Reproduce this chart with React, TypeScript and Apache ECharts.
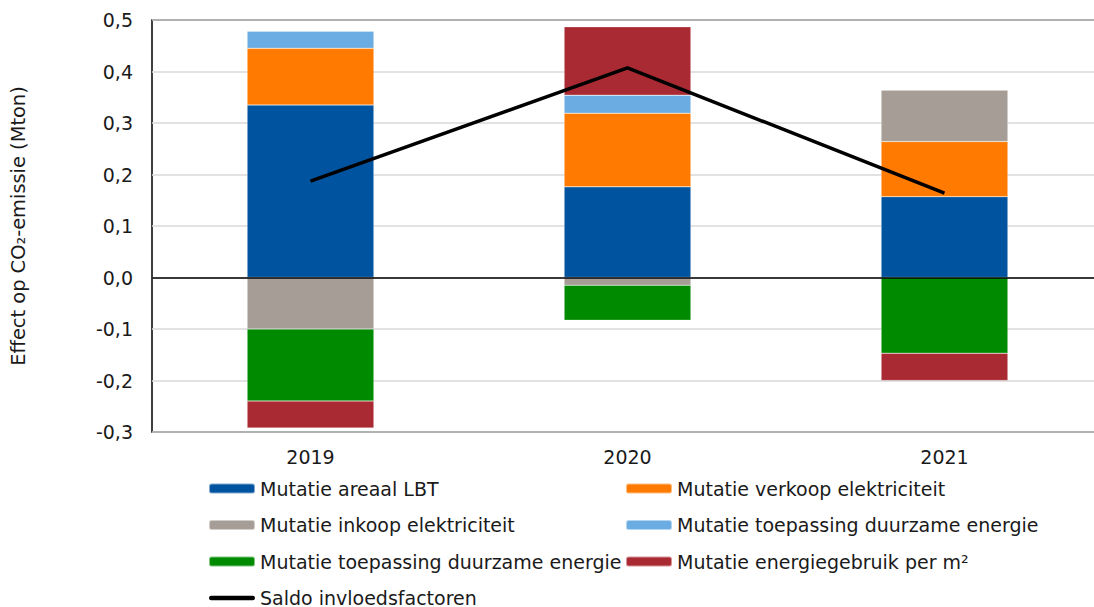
import React, { useEffect, useRef } from "react";
import * as echarts from "echarts";

const categories = ["2019", "2020", "2021"];
const areaalLBT = [0.335, 0.176, 0.157];
const verkoopElektriciteit = [0.11, 0.143, 0.107];
const inkoopElektriciteit = [-0.1, -0.015, 0.1];
const duurzaamLicht = [0.033, 0.035, 0];
const duurzaamGroen = [-0.14, -0.068, -0.147];
const energiegebruikPerM2 = [-0.052, 0.133, -0.053];
const saldo = [0.187, 0.407, 0.164];
const yTicks = { min: -0.3, max: 0.5, interval: 0.1 };

const FONT = "DejaVu Sans";
const N_BLUE = "Mutatie areaal LBT";
const N_ORANGE = "Mutatie verkoop elektriciteit";
const N_GRAY = "Mutatie inkoop elektriciteit";
const N_LBLUE = "Mutatie toepassing duurzame energie";
const N_GREEN = "Mutatie toepassing duurzame energie#2";
const N_RED = "Mutatie energiegebruik per m²";
const N_LINE = "Saldo invloedsfactoren";

export default function App() {
  const ref = useRef<HTMLDivElement>(null);
  useEffect(() => {
    if (!ref.current) return;
    const chart = echarts.init(ref.current, undefined, { renderer: "svg" });
    const bar = (name: string, data: number[], color: string) => ({
      name,
      type: "bar",
      stack: "total",
      barWidth: "40%",
      data,
      itemStyle: { color, borderColor: "rgba(255,255,255,0.5)", borderWidth: 0.5 },
    });
    const legendCommon = {
      orient: "vertical",
      top: 479,
      height: 160,
      padding: 0,
      itemWidth: 46,
      itemHeight: 10,
      itemGap: 17.5,
      itemTextGap: 6,
      formatter: (n: string) => n.replace("#2", ""),
      textStyle: { fontFamily: FONT, fontSize: 19, lineHeight: 19, color: "#1a1a1a" },
    };
    chart.setOption({
      animation: false,
      textStyle: { fontFamily: FONT },
      grid: {
        left: 152,
        top: 20,
        bottom: 175,
        width: 951,
        show: true,
        borderColor: "#000",
        borderWidth: 1.5,
        backgroundColor: "transparent",
      },
      legend: [
        {
          ...legendCommon,
          left: 208,
          data: [
            N_BLUE,
            N_GRAY,
            N_GREEN,
            {
              name: N_LINE,
              icon: "path://M2.5,0 H47.5 A2.5,2.5 0 0 1 47.5,5 H2.5 A2.5,2.5 0 0 1 2.5,0 Z",
            },
          ],
        },
        { ...legendCommon, left: 625, data: [N_ORANGE, N_LBLUE, N_RED] },
      ],
      xAxis: {
        type: "category",
        data: categories,
        axisLine: { show: false },
        axisTick: { show: false },
        axisLabel: { fontFamily: FONT, fontSize: 19, color: "#1a1a1a", margin: 15 },
      },
      yAxis: {
        type: "value",
        min: yTicks.min,
        max: yTicks.max,
        interval: yTicks.interval,
        name: "Effect op CO₂-emissie (Mton)",
        nameLocation: "middle",
        nameRotate: 90,
        nameGap: 124,
        nameTextStyle: { fontFamily: FONT, fontSize: 19.4, color: "#1a1a1a" },
        axisLine: { show: false },
        axisTick: { show: false },
        axisLabel: {
          fontFamily: FONT,
          fontSize: 19,
          color: "#1a1a1a",
          margin: 19,
          formatter: (v: number) => v.toFixed(1).replace(".", ","),
        },
        splitLine: { lineStyle: { color: "#d9d9d9", width: 1.5 } },
      },
      series: [
        bar(N_BLUE, areaalLBT, "#00539F"),
        bar(N_ORANGE, verkoopElektriciteit, "#FF7A00"),
        bar(N_GRAY, inkoopElektriciteit, "#A59D96"),
        bar(N_LBLUE, duurzaamLicht, "#6BADE2"),
        bar(N_GREEN, duurzaamGroen, "#008A00"),
        bar(N_RED, energiegebruikPerM2, "#AA2A33"),
        {
          name: N_LINE,
          type: "line",
          data: saldo,
          symbol: "none",
          z: 5,
          itemStyle: { color: "#000" },
          lineStyle: { color: "#000", width: 3.5 },
          markLine: {
            silent: true,
            symbol: "none",
            label: { show: false },
            lineStyle: { color: "#000", width: 1.5, type: "solid" },
            data: [{ yAxis: 0 }],
          },
        },
      ],
    });
    return () => chart.dispose();
  }, []);
  return (
    <div
      ref={ref}
      style={{ position: "fixed", left: 0, top: 0, width: 1110, height: 607, background: "#fff" }}
    />
  );
}
